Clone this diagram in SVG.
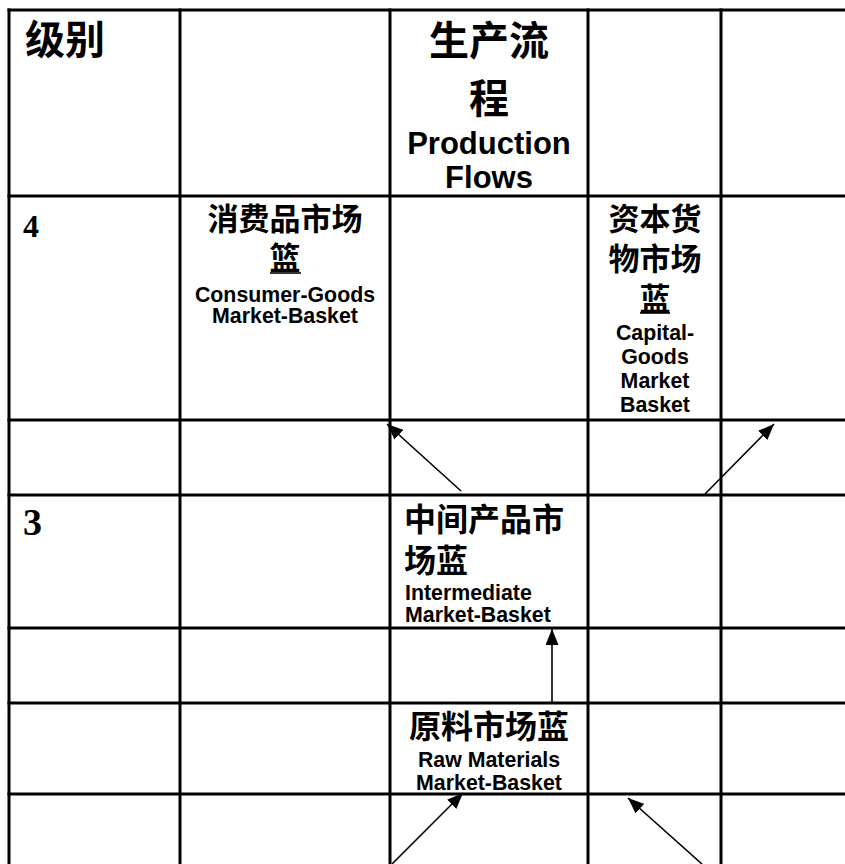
<svg xmlns="http://www.w3.org/2000/svg" width="845" height="864" viewBox="0 0 845 864">
<style>
.grid line{stroke:#000;stroke-width:3}
.cjk{font-family:"Noto Sans CJK SC","Liberation Sans",sans-serif;font-weight:700;fill:#000}
.lat{font-family:"Liberation Sans",Arial,sans-serif;font-weight:700;fill:#000}
.num{font-family:"Liberation Serif","Times New Roman",serif;font-weight:700;fill:#000}
.c{text-anchor:middle}
.conn line{stroke:#000;stroke-width:1.6;marker-end:url(#ah)}
.ul{stroke:#000;stroke-width:1.6}
</style>
<defs>
<marker id="ah" markerUnits="userSpaceOnUse" markerWidth="17" markerHeight="13" refX="16" refY="6.5" orient="auto">
<path d="M0,0 L16,6.5 L0,13 z" fill="#000"/>
</marker>
</defs>
<rect width="845" height="864" fill="#fff"/>
<g class="grid" id="grid">
<line x1="9" y1="8.5" x2="9" y2="864"/>
<line x1="180" y1="8.5" x2="180" y2="864"/>
<line x1="390" y1="8.5" x2="390" y2="864"/>
<line x1="588" y1="8.5" x2="588" y2="864"/>
<line x1="721" y1="8.5" x2="721" y2="864"/>
<line x1="7.5" y1="10" x2="845" y2="10"/>
<line x1="7.5" y1="196" x2="845" y2="196"/>
<line x1="7.5" y1="420" x2="845" y2="420"/>
<line x1="7.5" y1="495" x2="845" y2="495"/>
<line x1="7.5" y1="628" x2="845" y2="628"/>
<line x1="7.5" y1="703" x2="845" y2="703"/>
<line x1="7.5" y1="794" x2="845" y2="794"/>
</g>
<g id="header-level">
<text class="cjk" x="25" y="54" font-size="40">级别</text>
</g>
<g id="header-flows">
<text class="cjk c" x="489" y="55" font-size="40">生产流</text>
<text class="cjk c" x="489" y="113" font-size="40">程</text>
<text class="lat c" x="489" y="154" font-size="31">Production</text>
<text class="lat c" x="489" y="188" font-size="31">Flows</text>
</g>
<g id="level-4">
<text class="num" x="23" y="237" font-size="32">4</text>
</g>
<g id="level-3">
<text class="num" x="23" y="535" font-size="38">3</text>
</g>
<g id="consumer-goods">
<text class="cjk c" x="285" y="230" font-size="31">消费品市场</text>
<text class="cjk c" x="285" y="269" font-size="31">篮</text>
<line class="ul" x1="270" y1="273" x2="301" y2="273"/>
<text class="lat c" x="285" y="302" font-size="21.33">Consumer-Goods</text>
<text class="lat c" x="285" y="323" font-size="21.33">Market-Basket</text>
</g>
<g id="capital-goods">
<text class="cjk c" x="655" y="230" font-size="31">资本货</text>
<text class="cjk c" x="655" y="270" font-size="31">物市场</text>
<text class="cjk c" x="655" y="310" font-size="31">蓝</text>
<line class="ul" x1="640" y1="313" x2="670" y2="313"/>
<text class="lat c" x="655" y="340" font-size="21.33">Capital-</text>
<text class="lat c" x="655" y="364" font-size="21.33">Goods</text>
<text class="lat c" x="655" y="388" font-size="21.33">Market</text>
<text class="lat c" x="655" y="412" font-size="21.33">Basket</text>
</g>
<g id="intermediate">
<text class="cjk" x="404" y="531" font-size="32">中间产品市</text>
<text class="cjk" x="404" y="572" font-size="32">场蓝</text>
<text class="lat" x="405" y="600" font-size="21.33">Intermediate</text>
<text class="lat" x="405" y="622" font-size="21.33">Market-Basket</text>
</g>
<g id="raw-materials">
<text class="cjk c" x="489" y="738" font-size="32">原料市场蓝</text>
<text class="lat c" x="489" y="767" font-size="21.33">Raw Materials</text>
<text class="lat c" x="489" y="790" font-size="21.33">Market-Basket</text>
</g>
<g class="conn" id="connectors">
<line x1="461" y1="491" x2="387" y2="424"/>
<line x1="705" y1="494" x2="774" y2="424"/>
<line x1="552" y1="703" x2="552" y2="629"/>
<line x1="392" y1="864" x2="463" y2="793"/>
<line x1="702" y1="864" x2="628" y2="798"/>
</g>
</svg>
